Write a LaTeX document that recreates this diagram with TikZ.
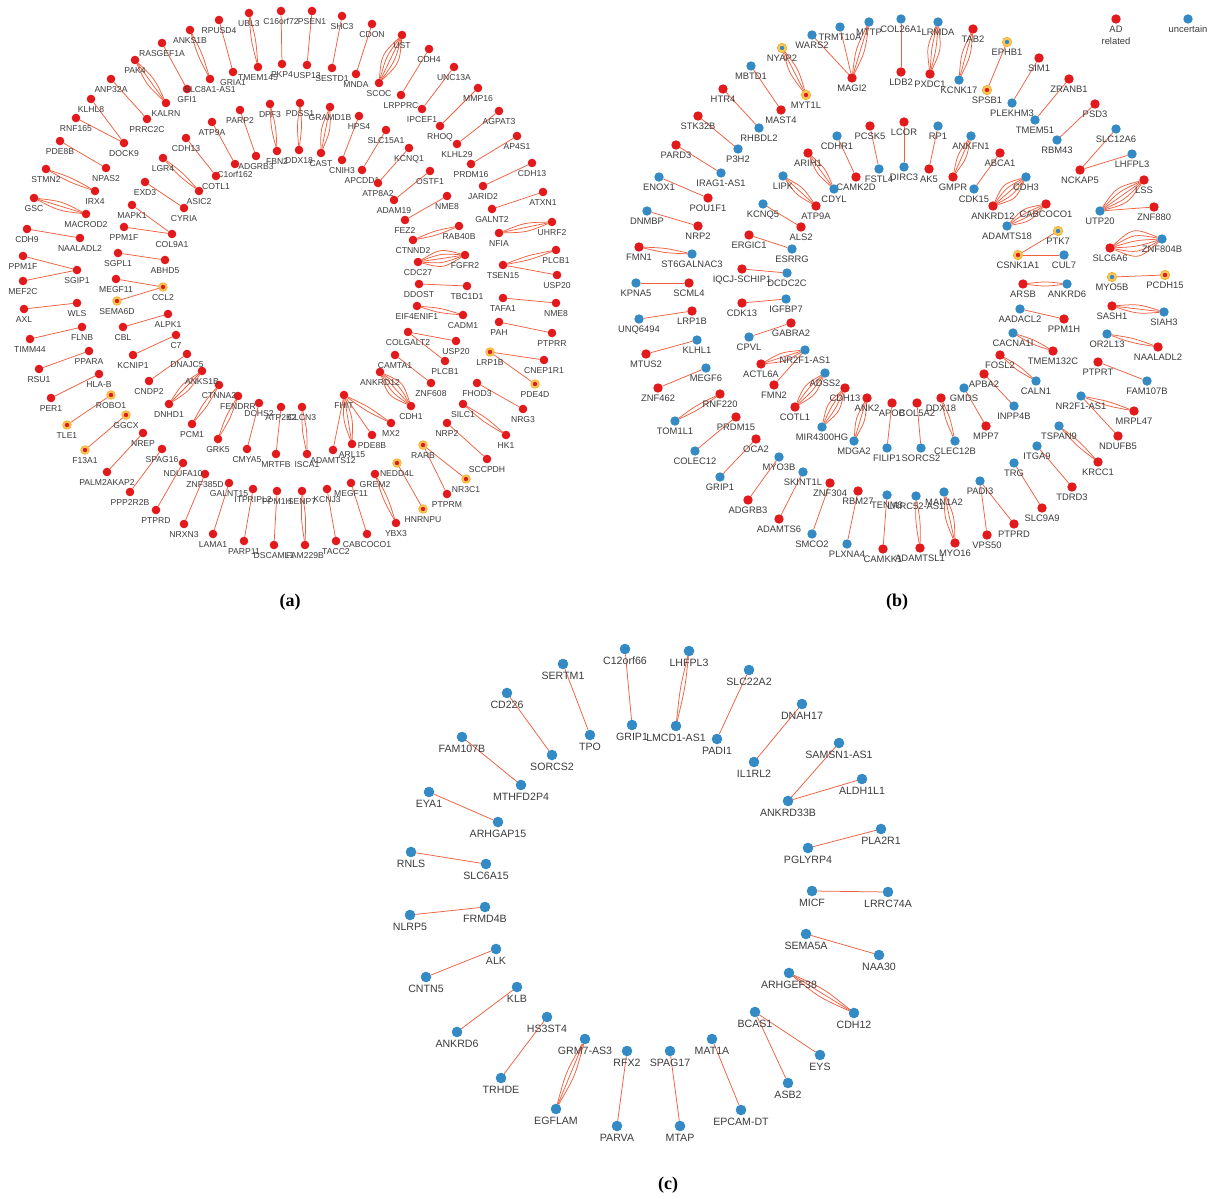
\documentclass[tikz,border=0pt]{standalone}
\usepackage{fontspec}
\setsansfont{Liberation Sans}
\newfontfamily\capfont{Liberation Serif}
\usetikzlibrary{calc}
\pgfdeclarelayer{bg}
\pgfsetlayers{bg,main}
\definecolor{adred}{RGB}{226,26,28}
\definecolor{unblue}{RGB}{52,138,196}
\definecolor{ringfill}{RGB}{252,200,90}
\definecolor{ringdraw}{RGB}{248,172,40}
\definecolor{edgec}{RGB}{240,96,64}
\definecolor{txt}{RGB}{60,60,60}
\tikzset{
 nd/.style={circle,inner sep=0pt,outer sep=0pt},
 nR/.style={nd,fill=adred},
 nB/.style={nd,fill=unblue},
 nOR/.style={nd,fill=ringfill,draw=ringdraw,line width=0.7pt,path picture={\fill[adred] (path picture bounding box.center) circle (2.2pt);}},
 nOB/.style={nd,fill=ringfill,draw=ringdraw,line width=0.7pt,path picture={\fill[unblue] (path picture bounding box.center) circle (2.2pt);}},
 lnk/.style={draw=edgec,line width=0.75pt},
 lbl/.style={inner sep=0pt,anchor=base,text=txt},
 fa/.style={font=\sffamily\fontsize{8.6}{10}\selectfont},
 fb/.style={font=\sffamily\fontsize{9.4}{11}\selectfont},
 fc/.style={font=\sffamily\fontsize{10.6}{12}\selectfont},
 captxt/.style={font=\capfont\bfseries\fontsize{18}{20}\selectfont,text=black},
}
\newcommand\NodeA[5][nR]{\node[#1,minimum size=8.6pt] (#2) at (#3,#4) {};\node[lbl,fa] (#2t) at (#3,#4+13.1) {#5};}
\newcommand\NodeB[5][nR]{\node[#1,minimum size=9.4pt] (#2) at (#3,#4) {};\node[lbl,fb] (#2t) at (#3,#4+13.9) {#5};}
\newcommand\NodeC[5][nB]{\node[#1,minimum size=10.6pt] (#2) at (#3,#4) {};\node[lbl,fc] (#2t) at (#3,#4+15.3) {#5};}
\def\mstep{5}
\newcommand\Ed[3][1]{%
 \ifnum#1=1\relax
  \draw[lnk] (#2) -- (#3);
 \else
  \foreach \k in {1,...,#1}{%
   \pgfmathsetmacro\off{(\k-(#1+1)/2)*\mstep}%
   \draw[lnk] (#2) .. controls ($(#2)!0.5!(#3)!\off pt!90:(#3)$) .. (#3);
  }%
 \fi}
\begin{document}
\begin{tikzpicture}[x=1pt,y=-1pt]
\begin{pgfonlayer}{bg}
\fill[white] (0,0) rectangle (1211,1198);
\end{pgfonlayer}
\useasboundingbox (0,0) rectangle (1211,1198);
% ---------------- panel (a) ----------------
\NodeA{aRPUSD4}{219}{20}{RPUSD4}
\NodeA{aGRIA1}{233}{72}{GRIA1}
\NodeA{aUBL3}{249}{13}{UBL3}
\NodeA{aTMEM145}{258}{67}{TMEM145}
\NodeA{aC16orf72}{281}{11}{C16orf72}
\NodeA{aPKP4}{282}{64}{PKP4}
\NodeA{aPSEN1}{312}{11}{PSEN1}
\NodeA{aUSP13}{307}{65}{USP13}
\NodeA{aSHC3}{342}{16}{SHC3}
\NodeA{aSESTD1}{332}{68}{SESTD1}
\NodeA{aCDON}{372}{24}{CDON}
\NodeA{aMNDA}{356}{74}{MNDA}
\NodeA{aUST}{402}{35}{UST}
\NodeA{aSCOC}{379}{83}{SCOC}
\NodeA{aCDH4}{429}{49}{CDH4}
\NodeA{aLRPPRC}{401}{95}{LRPPRC}
\NodeA{aUNC13A}{454}{67}{UNC13A}
\NodeA{aIPCEF1}{422}{109}{IPCEF1}
\NodeA{aMMP16}{478}{88}{MMP16}
\NodeA{aRHOQ}{440}{126}{RHOQ}
\NodeA{aAGPAT3}{499}{111}{AGPAT3}
\NodeA{aKLHL29}{457}{144}{KLHL29}
\NodeA{aAP4S1}{517}{136}{AP4S1}
\NodeA{aPRDM16}{471}{164}{PRDM16}
\NodeA{aCDH13b}{532}{163}{CDH13}
\NodeA{aJARID2}{483}{186}{JARID2}
\NodeA{aATXN1}{543}{192}{ATXN1}
\NodeA{aGALNT2}{492}{209}{GALNT2}
\NodeA{aUHRF2}{552}{222}{UHRF2}
\NodeA{aNFIA}{499}{233}{NFIA}
\NodeA{aPLCB1}{556}{250}{PLCB1}
\NodeA{aTSEN15}{503}{265}{TSEN15}
\NodeA{aUSP20}{557}{275}{USP20}
\NodeA{aTAFA1}{503}{298}{TAFA1}
\NodeA{aNMEEb}{556}{303}{NME8}
\NodeA{aPAH}{499}{322}{PAH}
\NodeA{aPTPRR}{552}{333}{PTPRR}
\NodeA[nOR]{aLRP1B}{490}{352}{LRP1B}
\NodeA{aCNEP1R1}{544}{360}{CNEP1R1}
\NodeA[nOR]{aPDE4D}{535}{384}{PDE4D}
\NodeA{aFHOD3}{477}{383}{FHOD3}
\NodeA{aNRG3}{523}{409}{NRG3}
\NodeA{aSILC1}{463}{404}{SILC1}
\NodeA{aHK1}{506}{435}{HK1}
\NodeA{aNRP2}{447}{423}{NRP2}
\NodeA{aSCCPDH}{487}{459}{SCCPDH}
\NodeA[nOR]{aRARB}{423}{445}{RARB}
\NodeA[nOR]{aNR3C1}{466}{479}{NR3C1}
\NodeA{aPTPRM}{447}{494}{PTPRM}
\NodeA[nOR]{aNEDD4L}{397}{463}{NEDD4L}
\NodeA[nOR]{aHNRNPU}{423}{509}{HNRNPU}
\NodeA{aGREM2}{375}{474}{GREM2}
\NodeA{aYBX3}{396}{523}{YBX3}
\NodeA{aMEGF11b}{351}{483}{MEGF11}
\NodeA{aCABCOCO1}{367}{534}{CABCOCO1}
\NodeA{aKCNJ3}{327}{489}{KCNJ3}
\NodeA{aTACC2}{336}{541}{TACC2}
\NodeA{aSENP7}{302}{491}{SENP7}
\NodeA{aFAM229B}{305}{545}{FAM229B}
\NodeA{aPPM1H}{277}{491}{PPM1H}
\NodeA{aDSCAML1}{274}{545}{DSCAML1}
\NodeA{aITPRIPL2}{253}{489}{ITPRIPL2}
\NodeA{aPARP11}{244}{541}{PARP11}
\NodeA{aGALNT15}{229}{483}{GALNT15}
\NodeA{aLAMA1}{213}{534}{LAMA1}
\NodeA{aZNF385D}{205}{474}{ZNF385D}
\NodeA{aNRXN3}{184}{524}{NRXN3}
\NodeA{aNDUFA10}{183}{463}{NDUFA10}
\NodeA{aPTPRD}{156}{510}{PTPRD}
\NodeA{aSPAG16}{162}{449}{SPAG16}
\NodeA{aPPP2R2B}{130}{492}{PPP2R2B}
\NodeA{aNREP}{143}{433}{NREP}
\NodeA{aPALM2AKAP2}{107}{472}{PALM2AKAP2}
\NodeA[nOR]{aGGCX}{126}{415}{GGCX}
\NodeA[nOR]{aF13A1}{85}{450}{F13A1}
\NodeA[nOR]{aROBO1}{111}{395}{ROBO1}
\NodeA[nOR]{aTLE1}{67}{425}{TLE1}
\NodeA{aHLAB}{99}{374}{HLA-B}
\NodeA{aPER1}{51}{398}{PER1}
\NodeA{aPPARA}{89}{351}{PPARA}
\NodeA{aRSU1}{39}{369}{RSU1}
\NodeA{aFLNB}{82}{327}{FLNB}
\NodeA{aTIMM44}{30}{339}{TIMM44}
\NodeA{aWLS}{77}{303}{WLS}
\NodeA{aAXL}{24}{309}{AXL}
\NodeA{aMEGF11}{116}{279}{MEGF11}
\NodeA[nOR]{aCCL2}{163}{287}{CCL2}
\NodeA[nOR]{aSEMA6D}{117}{301}{SEMA6D}
\NodeA{aPPM1F}{23}{256}{PPM1F}
\NodeA{aMEF2C}{23}{281}{MEF2C}
\NodeA{aSGIP1}{77}{270}{SGIP1}
\NodeA{aCDH9}{27}{229}{CDH9}
\NodeA{aNAALADL2}{80}{238}{NAALADL2}
\NodeA{aGSC}{34}{198}{GSC}
\NodeA{aMACROD2}{86}{214}{MACROD2}
\NodeA{aSTMN2}{46}{169}{STMN2}
\NodeA{aIRX4}{95}{191}{IRX4}
\NodeA{aPDE8B}{60}{141}{PDE8B}
\NodeA{aNPAS2}{106}{168}{NPAS2}
\NodeA{aRNF165}{76}{118}{RNF165}
\NodeA{aKLHL8}{91}{99}{KLHL8}
\NodeA{aDOCK9}{124}{143}{DOCK9}
\NodeA{aANP32A}{111}{79}{ANP32A}
\NodeA{aPRRC2C}{147}{119}{PRRC2C}
\NodeA{aPAK4}{135}{60}{PAK4}
\NodeA{aKALRN}{166}{103}{KALRN}
\NodeA{aRASGEF1A}{162}{43}{RASGEF1A}
\NodeA{aGFI1}{187}{89}{GFI1}
\NodeA{aANKS1B}{190}{30}{ANKS1B}
\NodeA{aSLC8A1AS1}{210}{79}{SLC8A1-AS1}
% inner ring (a)
\NodeA{aPARP2}{240}{110}{PARP2}
\NodeA{aADGRB3}{256}{156}{ADGRB3}
\NodeA{aATP9A}{212}{122}{ATP9A}
\NodeA{aC1orf162}{235}{164}{C1orf162}
\NodeA{aCDH13}{186}{138}{CDH13}
\NodeA{aCOTL1}{216}{176}{COTL1}
\NodeA{aLGR4}{163}{158}{LGR4}
\NodeA{aASIC2}{199}{191}{ASIC2}
\NodeA{aEXD3}{145}{182}{EXD3}
\NodeA{aCYRIA}{184}{208}{CYRIA}
\NodeA{aMAPK1}{132}{205}{MAPK1}
\NodeA{aPPM1Fb}{124}{227}{PPM1F}
\NodeA{aCOL9A1}{172}{234}{COL9A1}
\NodeA{aSGPL1}{118}{253}{SGPL1}
\NodeA{aABHD5}{165}{260}{ABHD5}
\NodeA{aDPF3}{270}{104}{DPF3}
\NodeA{aFBN2}{277}{151}{FBN2}
\NodeA{aPDSS1}{300}{103}{PDSS1}
\NodeA{aDDX18}{299}{150}{DDX18}
\NodeA{aGRAMD1B}{330}{107}{GRAMD1B}
\NodeA{aCAST}{321}{153}{CAST}
\NodeA{aHPS4}{359}{116}{HPS4}
\NodeA{aCNIH3}{342}{160}{CNIH3}
\NodeA{aSLC15A1}{386}{130}{SLC15A1}
\NodeA{aAPCDD1}{362}{170}{APCDD1}
\NodeA{aKCNQ1}{409}{148}{KCNQ1}
\NodeA{aATP8A2}{378}{183}{ATP8A2}
\NodeA{aOSTF1}{430}{171}{OSTF1}
\NodeA{aADAM19}{394}{200}{ADAM19}
\NodeA{aNME8}{447}{196}{NME8}
\NodeA{aFEZ2}{405}{220}{FEZ2}
\NodeA{aRAB40B}{459}{226}{RAB40B}
\NodeA{aCTNND2}{413}{240}{CTNND2}
\NodeA{aFGFR2}{465}{255}{FGFR2}
\NodeA{aCDC27}{418}{262}{CDC27}
\NodeA{aDDOST}{419}{284}{DDOST}
\NodeA{aTBC1D1}{467}{286}{TBC1D1}
\NodeA{aEIF4ENIF1}{417}{306}{EIF4ENIF1}
\NodeA{aCADM1}{463}{315}{CADM1}
\NodeA{aCOLGALT2}{408}{332}{COLGALT2}
\NodeA{aUSP20b}{456}{341}{USP20}
\NodeA{aPLCB1b}{445}{361}{PLCB1}
\NodeA{aCAMTA1}{395}{355}{CAMTA1}
\NodeA{aZNF608}{431}{383}{ZNF608}
\NodeA{aANKRD12}{380}{372}{ANKRD12}
\NodeA{aCDH1}{411}{406}{CDH1}
\NodeA{aFHIT}{344}{395}{FHIT}
\NodeA{aMX2}{391}{423}{MX2}
\NodeA{aPDE8Bb}{372}{435}{PDE8B}
\NodeA{aARL15}{352}{444}{ARL15}
\NodeA{aADAMTS12}{333}{450}{ADAMTS12}
\NodeA{aCLCN3}{302}{407}{CLCN3}
\NodeA{aISCA1}{307}{454}{ISCA1}
\NodeA{aATP2B2}{281}{407}{ATP2B2}
\NodeA{aMRTFB}{276}{454}{MRTFB}
\NodeA{aDCHS2}{259}{403}{DCHS2}
\NodeA{aCMYA5}{247}{449}{CMYA5}
\NodeA{aFENDRR}{238}{396}{FENDRR}
\NodeA{aGRK5}{218}{439}{GRK5}
\NodeA{aCTNNA2}{219}{385}{CTNNA2}
\NodeA{aPCM1}{192}{424}{PCM1}
\NodeA{aANKS1Bb}{202}{371}{ANKS1B}
\NodeA{aDNHD1}{169}{404}{DNHD1}
\NodeA{aDNAJC5}{187}{354}{DNAJC5}
\NodeA{aCNDP2}{149}{381}{CNDP2}
\NodeA{aC7}{176}{335}{C7}
\NodeA{aKCNIP1}{133}{355}{KCNIP1}
\NodeA{aALPK1}{168}{314}{ALPK1}
\NodeA{aCBL}{123}{327}{CBL}
% ---------------- panel (b) ----------------
\NodeB[nB]{bWARS2}{812}{35}{WARS2}
\NodeB[nB]{bTRMT10A}{840}{27}{TRMT10A}
\NodeB[nB]{bMTTP}{869}{22}{MTTP}
\NodeB{bMAGI2}{852}{78}{MAGI2}
\NodeB[nB]{bCOL26A1}{901}{19}{COL26A1}
\NodeB{bLDB2}{901}{72}{LDB2}
\NodeB[nOB]{bNYAP2}{782}{48}{NYAP2}
\NodeB[nOR]{bMYT1L}{806}{95}{MYT1L}
\NodeB[nB]{bMBTD1}{751}{66}{MBTD1}
\NodeB{bMAST4}{781}{110}{MAST4}
\NodeB{bHTR4}{723}{89}{HTR4}
\NodeB[nB]{bRHBDL2}{759}{128}{RHBDL2}
\NodeB{bSTK32B}{698}{116}{STK32B}
\NodeB[nB]{bP3H2}{738}{149}{P3H2}
\NodeB{bPARD3}{676}{145}{PARD3}
\NodeB[nB]{bIRAG1AS1}{721}{173}{IRAG1-AS1}
\NodeB[nB]{bENOX1}{659}{177}{ENOX1}
\NodeB{bPOU1F1}{708}{198}{POU1F1}
\NodeB[nB]{bDNMBP}{647}{211}{DNMBP}
\NodeB{bNRP2}{698}{226}{NRP2}
\NodeB{bFMN1}{639}{247}{FMN1}
\NodeB[nB]{bST6GALNAC3}{692}{254}{ST6GALNAC3}
\NodeB[nB]{bKPNA5}{636}{283}{KPNA5}
\NodeB{bSCML4}{689}{283}{SCML4}
\NodeB[nB]{bUNQ6494}{639}{319}{UNQ6494}
\NodeB{bLRP1B}{692}{311}{LRP1B}
\NodeB{bMTUS2}{646}{354}{MTUS2}
\NodeB[nB]{bKLHL1}{697}{340}{KLHL1}
\NodeB{bZNF462}{658}{388}{ZNF462}
\NodeB[nB]{bMEGF6}{706}{368}{MEGF6}
\NodeB[nB]{bTOM1L1}{675}{421}{TOM1L1}
\NodeB{bRNF220}{720}{394}{RNF220}
\NodeB[nB]{bCOLEC12}{695}{451}{COLEC12}
\NodeB{bPRDM15}{736}{417}{PRDM15}
\NodeB[nB]{bGRIP1}{720}{477}{GRIP1}
\NodeB{bOCA2}{756}{439}{OCA2}
\NodeB{bADGRB3}{748}{500}{ADGRB3}
\NodeB[nB]{bMYO3B}{779}{457}{MYO3B}
\NodeB{bADAMTS6}{779}{519}{ADAMTS6}
\NodeB[nB]{bSKINT1L}{803}{472}{SKINT1L}
\NodeB[nB]{bSMCO2}{812}{534}{SMCO2}
\NodeB{bZNF304}{830}{483}{ZNF304}
\NodeB[nB]{bPLXNA4}{847}{544}{PLXNA4}
\NodeB{bRBM27}{858}{491}{RBM27}
\NodeB{bCAMKK}{883}{549}{CAMKK1}
\NodeB[nB]{bTENM3}{887}{495}{TENM3}
\NodeB[nB]{bLRRC52AS1}{916}{496}{LRRC52-AS1}
\NodeB{bADAMTSL1}{920}{548}{ADAMTSL1}
\NodeB[nB]{bMAN1A2}{944}{492}{MAN1A2}
\NodeB{bMYO16}{955}{543}{MYO16}
\NodeB[nB]{bPADI3}{980}{481}{PADI3}
\NodeB{bVPS50}{987}{535}{VPS50}
\NodeB{bPTPRD}{1014}{524}{PTPRD}
\NodeB[nB]{bTRG}{1014}{463}{TRG}
\NodeB{bSLC9A9}{1042}{508}{SLC9A9}
\NodeB[nB]{bITGA9}{1037}{446}{ITGA9}
\NodeB{bTDRD3}{1072}{487}{TDRD3}
\NodeB[nB]{bTSPAN9}{1059}{426}{TSPAN9}
\NodeB{bKRCC1}{1098}{462}{KRCC1}
\NodeB[nB]{bNRFAb}{1081}{396}{NR2F1-AS1}
\NodeB{bMRPL47}{1134}{411}{MRPL47}
\NodeB{bNDUFB5}{1118}{436}{NDUFB5}
\NodeB{bPTPRT}{1098}{362}{PTPRT}
\NodeB[nB]{bFAM107B}{1147}{381}{FAM107B}
\NodeB[nB]{bOR2L13}{1107}{334}{OR2L13}
\NodeB{bNAALADL2}{1158}{347}{NAALADL2}
\NodeB{bSASH1}{1112}{306}{SASH1}
\NodeB[nB]{bSIAH3}{1164}{312}{SIAH3}
\NodeB[nOB]{bMYO5B}{1112}{277}{MYO5B}
\NodeB[nOR]{bPCDH15}{1165}{275}{PCDH15}
\NodeB{bSLC6A6}{1110}{248}{SLC6A6}
\NodeB[nB]{bZNF804B}{1162}{239}{ZNF804B}
\NodeB[nB]{bUTP20}{1100}{211}{UTP20}
\NodeB{bLSS}{1144}{180}{LSS}
\NodeB{bZNF880}{1154}{207}{ZNF880}
\NodeB{bNCKAP5}{1080}{170}{NCKAP5}
\NodeB[nB]{bSLC12A6}{1116}{129}{SLC12A6}
\NodeB[nB]{bLHFPL3}{1132}{154}{LHFPL3}
\NodeB{bPSD3}{1095}{104}{PSD3}
\NodeB[nB]{bRBM43}{1057}{140}{RBM43}
\NodeB{bZRANB1}{1069}{79}{ZRANB1}
\NodeB[nB]{bTMEM51}{1035}{120}{TMEM51}
\NodeB{bSIM1}{1039}{58}{SIM1}
\NodeB[nB]{bPLEKHM3}{1012}{103}{PLEKHM3}
\NodeB[nOB]{bEPHB1}{1007}{42}{EPHB1}
\NodeB[nOR]{bSPSB1}{987}{90}{SPSB1}
\NodeB{bTAB2}{973}{29}{TAB2}
\NodeB[nB]{bKCNK17}{959}{80}{KCNK17}
\NodeB[nB]{bLRMDA}{938}{22}{LRMDA}
\NodeB{bPXDC1}{930}{74}{PXDC1}
% inner ring (b)
\NodeB[nB]{bCDHR1}{837}{136}{CDHR1}
\NodeB{bCAMK2D}{856}{177}{CAMK2D}
\NodeB{bPCSK5}{870}{126}{PCSK5}
\NodeB[nB]{bFSTL4}{879}{169}{FSTL4}
\NodeB{bLCOR}{904}{122}{LCOR}
\NodeB[nB]{bDIRC3}{904}{167}{DIRC3}
\NodeB[nB]{bRP1}{938}{126}{RP1}
\NodeB{bAK5}{929}{169}{AK5}
\NodeB[nB]{bANKFN1}{971}{136}{ANKFN1}
\NodeB{bGMPR}{953}{177}{GMPR}
\NodeB{bABCA1}{1000}{153}{ABCA1}
\NodeB[nB]{bCDK15}{974}{189}{CDK15}
\NodeB[nB]{bCDH3}{1026}{177}{CDH3}
\NodeB{bANKRD12}{993}{206}{ANKRD12}
\NodeB{bCABCOCO1}{1046}{204}{CABCOCO1}
\NodeB[nB]{bADAMTS18}{1007}{226}{ADAMTS18}
\NodeB[nOB]{bPTK7}{1058}{231}{PTK7}
\NodeB[nOR]{bCSNK1A1}{1018}{255}{CSNK1A1}
\NodeB[nB]{bCUL7}{1064}{255}{CUL7}
\NodeB{bARSB}{1023}{284}{ARSB}
\NodeB[nB]{bANKRD6}{1067}{284}{ANKRD6}
\NodeB[nB]{bAADACL2}{1020}{309}{AADACL2}
\NodeB{bPPM1H}{1064}{319}{PPM1H}
\NodeB[nB]{bCACNA1I}{1013}{333}{CACNA1I}
\NodeB{bTMEM132C}{1053}{351}{TMEM132C}
\NodeB{bFOSL2}{1000}{355}{FOSL2}
\NodeB[nB]{bCALN1}{1036}{381}{CALN1}
\NodeB{bAPBA2}{984}{374}{APBA2}
\NodeB[nB]{bINPP4B}{1014}{406}{INPP4B}
\NodeB[nB]{bGMDS}{964}{388}{GMDS}
\NodeB{bMPP7}{986}{426}{MPP7}
\NodeB{bDDX18}{941}{398}{DDX18}
\NodeB[nB]{bCLEC12B}{955}{441}{CLEC12B}
\NodeB{bCOL5A2}{917}{403}{COL5A2}
\NodeB[nB]{bSORCS2}{921}{448}{SORCS2}
\NodeB{bAPOB}{892}{403}{APOB}
\NodeB[nB]{bFILIP1}{887}{448}{FILIP1}
\NodeB{bANK2}{867}{398}{ANK2}
\NodeB[nB]{bMDGA2}{854}{441}{MDGA2}
\NodeB{bCDH13}{845}{388}{CDH13}
\NodeB[nB]{bMIR4300HG}{822}{427}{MIR4300HG}
\NodeB[nB]{bADSS2}{825}{373}{ADSS2}
\NodeB{bCOTL1}{795}{407}{COTL1}
\NodeB[nB]{bNRFA}{805}{350}{NR2F1-AS1}
\NodeB{bACTL6A}{761}{364}{ACTL6A}
\NodeB{bFMN2}{774}{385}{FMN2}
\NodeB[nB]{bCPVL}{749}{337}{CPVL}
\NodeB{bGABRA2}{791}{323}{GABRA2}
\NodeB{bCDK13}{742}{303}{CDK13}
\NodeB[nB]{bIGFBP7}{786}{299}{IGFBP7}
\NodeB{bIQCJ}{742}{269}{IQCJ-SCHIP1}
\NodeB[nB]{bDCDC2C}{787}{273}{DCDC2C}
\NodeB{bERGIC1}{749}{235}{ERGIC1}
\NodeB[nB]{bESRRG}{792}{249}{ESRRG}
\NodeB[nB]{bKCNQ5}{763}{204}{KCNQ5}
\NodeB{bALS2}{801}{227}{ALS2}
\NodeB[nB]{bLIPK}{783}{176}{LIPK}
\NodeB{bATP9A}{816}{206}{ATP9A}
\NodeB{bARIH1}{808}{153}{ARIH1}
\NodeB[nB]{bCDYL}{834}{189}{CDYL}
% legend
\node[nR,minimum size=9.4pt] (legR) at (1116,19) {};
\node[lbl,fb] (legRa) at (1116,32.9) {AD};
\node[lbl,fb] (legRb) at (1116,44.5) {related};
\node[nB,minimum size=9.4pt] (legB) at (1188,19) {};
\node[lbl,fb] (legBa) at (1188,32.9) {uncertain};
% ---------------- panel (c) ----------------
\NodeC{cSERTM1}{563}{664}{SERTM1}
\NodeC{cTPO}{590}{735}{TPO}
\NodeC{cC12orf66}{625}{649}{C12orf66}
\NodeC{cGRIP1}{632}{725}{GRIP1}
\NodeC{cLHFPL3}{689}{651}{LHFPL3}
\NodeC{cLMCD1AS1}{676}{726}{LMCD1-AS1}
\NodeC{cSLC22A2}{749}{670}{SLC22A2}
\NodeC{cPADI1}{717}{739}{PADI1}
\NodeC{cDNAH17}{802}{704}{DNAH17}
\NodeC{cIL1RL2}{754}{762}{IL1RL2}
\NodeC{cSAMSN1AS1}{839}{743}{SAMSN1-AS1}
\NodeC{cALDH1L1}{862}{779}{ALDH1L1}
\NodeC{cANKRD33B}{788}{801}{ANKRD33B}
\NodeC{cPLA2R1}{881}{829}{PLA2R1}
\NodeC{cPGLYRP4}{808}{848}{PGLYRP4}
\NodeC{cMICF}{812}{891}{MICF}
\NodeC{cLRRC74A}{888}{892}{LRRC74A}
\NodeC{cSEMA5A}{806}{934}{SEMA5A}
\NodeC{cNAA30}{879}{955}{NAA30}
\NodeC{cARHGEF38}{789}{973}{ARHGEF38}
\NodeC{cCDH12}{854}{1013}{CDH12}
\NodeC{cBCAS1}{755}{1012}{BCAS1}
\NodeC{cEYS}{820}{1055}{EYS}
\NodeC{cASB2}{788}{1083}{ASB2}
\NodeC{cMAT1A}{712}{1039}{MAT1A}
\NodeC{cEPCAMDT}{741}{1110}{EPCAM-DT}
\NodeC{cSPAG17}{670}{1051}{SPAG17}
\NodeC{cMTAP}{680}{1126}{MTAP}
\NodeC{cRFX2}{627}{1051}{RFX2}
\NodeC{cPARVA}{617}{1126}{PARVA}
\NodeC{cGRM7AS3}{585}{1039}{GRM7-AS3}
\NodeC{cEGFLAM}{556}{1109}{EGFLAM}
\NodeC{cHS3ST4}{547}{1017}{HS3ST4}
\NodeC{cTRHDE}{501}{1078}{TRHDE}
\NodeC{cKLB}{517}{987}{KLB}
\NodeC{cANKRD6}{457}{1032}{ANKRD6}
\NodeC{cALK}{496}{949}{ALK}
\NodeC{cCNTN5}{426}{977}{CNTN5}
\NodeC{cNLRP5}{410}{915}{NLRP5}
\NodeC{cFRMD4B}{485}{907}{FRMD4B}
\NodeC{cRNLS}{411}{852}{RNLS}
\NodeC{cSLC6A15}{486}{864}{SLC6A15}
\NodeC{cEYA1}{429}{792}{EYA1}
\NodeC{cARHGAP15}{498}{822}{ARHGAP15}
\NodeC{cFAM107B}{462}{737}{FAM107B}
\NodeC{cMTHFD2P4}{521}{785}{MTHFD2P4}
\NodeC{cCD226}{507}{693}{CD226}
\NodeC{cSORCS2}{552}{755}{SORCS2}
% panel captions
\node[captxt] (capa) at (290,602) {(a)};
\node[captxt] (capb) at (897,602) {(b)};
\node[captxt] (capc) at (668,1185) {(c)};
% ---------------- edges ----------------
\begin{pgfonlayer}{bg}
\Ed{aRPUSD4}{aGRIA1}
\Ed[2]{aUBL3}{aTMEM145}
\Ed{aC16orf72}{aPKP4}
\Ed{aPSEN1}{aUSP13}
\Ed{aSHC3}{aSESTD1}
\Ed{aCDON}{aMNDA}
\Ed[5]{aUST}{aSCOC}
\Ed{aCDH4}{aLRPPRC}
\Ed{aUNC13A}{aIPCEF1}
\Ed{aMMP16}{aRHOQ}
\Ed{aAGPAT3}{aKLHL29}
\Ed{aAP4S1}{aPRDM16}
\Ed{aCDH13b}{aJARID2}
\Ed{aATXN1}{aGALNT2}
\Ed[3]{aUHRF2}{aNFIA}
\Ed[2]{aTSEN15}{aPLCB1}
\Ed{aTSEN15}{aUSP20}
\Ed{aTAFA1}{aNMEEb}
\Ed{aPAH}{aPTPRR}
\Ed{aLRP1B}{aCNEP1R1}
\Ed{aLRP1B}{aPDE4D}
\Ed{aFHOD3}{aNRG3}
\Ed[2]{aSILC1}{aHK1}
\Ed{aNRP2}{aSCCPDH}
\Ed{aRARB}{aNR3C1}
\Ed{aRARB}{aPTPRM}
\Ed{aNEDD4L}{aHNRNPU}
\Ed[2]{aGREM2}{aYBX3}
\Ed{aMEGF11b}{aCABCOCO1}
\Ed{aKCNJ3}{aTACC2}
\Ed[2]{aSENP7}{aFAM229B}
\Ed{aPPM1H}{aDSCAML1}
\Ed{aITPRIPL2}{aPARP11}
\Ed{aGALNT15}{aLAMA1}
\Ed{aZNF385D}{aNRXN3}
\Ed{aNDUFA10}{aPTPRD}
\Ed{aSPAG16}{aPPP2R2B}
\Ed{aNREP}{aPALM2AKAP2}
\Ed{aGGCX}{aF13A1}
\Ed{aROBO1}{aTLE1}
\Ed{aHLAB}{aPER1}
\Ed{aPPARA}{aRSU1}
\Ed{aFLNB}{aTIMM44}
\Ed{aWLS}{aAXL}
\Ed{aMEGF11}{aCCL2}
\Ed{aCCL2}{aSEMA6D}
\Ed{aPPM1F}{aSGIP1}
\Ed{aMEF2C}{aSGIP1}
\Ed{aCDH9}{aNAALADL2}
\Ed[3]{aGSC}{aMACROD2}
\Ed[2]{aSTMN2}{aIRX4}
\Ed{aPDE8B}{aNPAS2}
\Ed{aRNF165}{aDOCK9}
\Ed{aKLHL8}{aDOCK9}
\Ed{aANP32A}{aPRRC2C}
\Ed[3]{aPAK4}{aKALRN}
\Ed{aRASGEF1A}{aGFI1}
\Ed[2]{aANKS1B}{aSLC8A1AS1}
\Ed{aPARP2}{aADGRB3}
\Ed{aATP9A}{aC1orf162}
\Ed{aCDH13}{aCOTL1}
\Ed[2]{aLGR4}{aASIC2}
\Ed{aEXD3}{aCYRIA}
\Ed{aMAPK1}{aCOL9A1}
\Ed{aPPM1Fb}{aCOL9A1}
\Ed{aSGPL1}{aABHD5}
\Ed[2]{aDPF3}{aFBN2}
\Ed[2]{aPDSS1}{aDDX18}
\Ed[3]{aGRAMD1B}{aCAST}
\Ed{aHPS4}{aCNIH3}
\Ed{aSLC15A1}{aAPCDD1}
\Ed{aKCNQ1}{aATP8A2}
\Ed{aOSTF1}{aADAM19}
\Ed{aNME8}{aFEZ2}
\Ed[2]{aRAB40B}{aCTNND2}
\Ed[5]{aCDC27}{aFGFR2}
\Ed{aDDOST}{aTBC1D1}
\Ed[2]{aEIF4ENIF1}{aCADM1}
\Ed{aCOLGALT2}{aUSP20b}
\Ed{aCOLGALT2}{aPLCB1b}
\Ed{aCAMTA1}{aZNF608}
\Ed[5]{aANKRD12}{aCDH1}
\Ed[2]{aFHIT}{aMX2}
\Ed{aFHIT}{aPDE8Bb}
\Ed[3]{aFHIT}{aARL15}
\Ed{aFHIT}{aADAMTS12}
\Ed[2]{aCLCN3}{aISCA1}
\Ed{aATP2B2}{aMRTFB}
\Ed{aDCHS2}{aCMYA5}
\Ed[2]{aFENDRR}{aGRK5}
\Ed[2]{aCTNNA2}{aPCM1}
\Ed[3]{aANKS1Bb}{aDNHD1}
\Ed{aDNAJC5}{aCNDP2}
\Ed{aC7}{aKCNIP1}
\Ed{aALPK1}{aCBL}
% (b)
\Ed{bWARS2}{bMAGI2}
\Ed{bTRMT10A}{bMAGI2}
\Ed[3]{bMTTP}{bMAGI2}
\Ed{bCOL26A1}{bLDB2}
\Ed[3]{bNYAP2}{bMYT1L}
\Ed{bMBTD1}{bMAST4}
\Ed{bHTR4}{bRHBDL2}
\Ed{bSTK32B}{bP3H2}
\Ed{bPARD3}{bIRAG1AS1}
\Ed{bENOX1}{bPOU1F1}
\Ed{bDNMBP}{bNRP2}
\Ed[2]{bFMN1}{bST6GALNAC3}
\Ed{bKPNA5}{bSCML4}
\Ed{bUNQ6494}{bLRP1B}
\Ed{bMTUS2}{bKLHL1}
\Ed{bZNF462}{bMEGF6}
\Ed[2]{bTOM1L1}{bRNF220}
\Ed{bCOLEC12}{bPRDM15}
\Ed{bGRIP1}{bOCA2}
\Ed{bADGRB3}{bMYO3B}
\Ed{bADAMTS6}{bSKINT1L}
\Ed{bSMCO2}{bZNF304}
\Ed{bPLXNA4}{bRBM27}
\Ed{bCAMKK}{bTENM3}
\Ed[2]{bLRRC52AS1}{bADAMTSL1}
\Ed[3]{bMAN1A2}{bMYO16}
\Ed{bPADI3}{bVPS50}
\Ed{bPADI3}{bPTPRD}
\Ed{bTRG}{bSLC9A9}
\Ed{bITGA9}{bTDRD3}
\Ed[2]{bTSPAN9}{bKRCC1}
\Ed[2]{bNRFAb}{bMRPL47}
\Ed{bNRFAb}{bNDUFB5}
\Ed{bPTPRT}{bFAM107B}
\Ed[2]{bOR2L13}{bNAALADL2}
\Ed[3]{bSASH1}{bSIAH3}
\Ed{bMYO5B}{bPCDH15}
{\def\mstep{6.5}\Ed[6]{bSLC6A6}{bZNF804B}}
\Ed[5]{bUTP20}{bLSS}
\Ed{bUTP20}{bZNF880}
\Ed{bNCKAP5}{bSLC12A6}
\Ed{bNCKAP5}{bLHFPL3}
\Ed{bPSD3}{bRBM43}
\Ed{bZRANB1}{bTMEM51}
\Ed{bSIM1}{bPLEKHM3}
\Ed{bEPHB1}{bSPSB1}
\Ed[3]{bTAB2}{bKCNK17}
\Ed[4]{bLRMDA}{bPXDC1}
\Ed{bCDHR1}{bCAMK2D}
\Ed{bPCSK5}{bFSTL4}
\Ed{bLCOR}{bDIRC3}
\Ed{bRP1}{bAK5}
\Ed[3]{bANKFN1}{bGMPR}
\Ed{bABCA1}{bCDK15}
\Ed[5]{bCDH3}{bANKRD12}
\Ed[4]{bCABCOCO1}{bADAMTS18}
\Ed{bCSNK1A1}{bPTK7}
\Ed{bCSNK1A1}{bCUL7}
\Ed[2]{bARSB}{bANKRD6}
\Ed{bAADACL2}{bPPM1H}
\Ed[2]{bCACNA1I}{bTMEM132C}
\Ed[2]{bFOSL2}{bCALN1}
\Ed{bAPBA2}{bINPP4B}
\Ed{bGMDS}{bMPP7}
\Ed[2]{bDDX18}{bCLEC12B}
\Ed{bCOL5A2}{bSORCS2}
\Ed{bAPOB}{bFILIP1}
\Ed[3]{bANK2}{bMDGA2}
\Ed[4]{bCDH13}{bMIR4300HG}
\Ed[4]{bADSS2}{bCOTL1}
\Ed[3]{bNRFA}{bACTL6A}
\Ed{bNRFA}{bFMN2}
\Ed{bCPVL}{bGABRA2}
\Ed{bCDK13}{bIGFBP7}
\Ed{bIQCJ}{bDCDC2C}
\Ed{bERGIC1}{bESRRG}
\Ed{bKCNQ5}{bALS2}
\Ed[3]{bLIPK}{bATP9A}
\Ed[3]{bARIH1}{bCDYL}
% (c)
\Ed{cSERTM1}{cTPO}
\Ed{cC12orf66}{cGRIP1}
\Ed[2]{cLHFPL3}{cLMCD1AS1}
\Ed{cSLC22A2}{cPADI1}
\Ed{cDNAH17}{cIL1RL2}
\Ed{cSAMSN1AS1}{cANKRD33B}
\Ed{cALDH1L1}{cANKRD33B}
\Ed{cPLA2R1}{cPGLYRP4}
\Ed{cMICF}{cLRRC74A}
\Ed{cSEMA5A}{cNAA30}
\Ed[3]{cARHGEF38}{cCDH12}
\Ed{cBCAS1}{cEYS}
\Ed{cBCAS1}{cASB2}
\Ed{cMAT1A}{cEPCAMDT}
\Ed{cSPAG17}{cMTAP}
\Ed{cRFX2}{cPARVA}
\Ed[3]{cGRM7AS3}{cEGFLAM}
\Ed{cHS3ST4}{cTRHDE}
\Ed{cKLB}{cANKRD6}
\Ed{cALK}{cCNTN5}
\Ed{cNLRP5}{cFRMD4B}
\Ed{cRNLS}{cSLC6A15}
\Ed{cEYA1}{cARHGAP15}
\Ed{cFAM107B}{cMTHFD2P4}
\Ed{cCD226}{cSORCS2}
\end{pgfonlayer}
\end{tikzpicture}
\end{document}
